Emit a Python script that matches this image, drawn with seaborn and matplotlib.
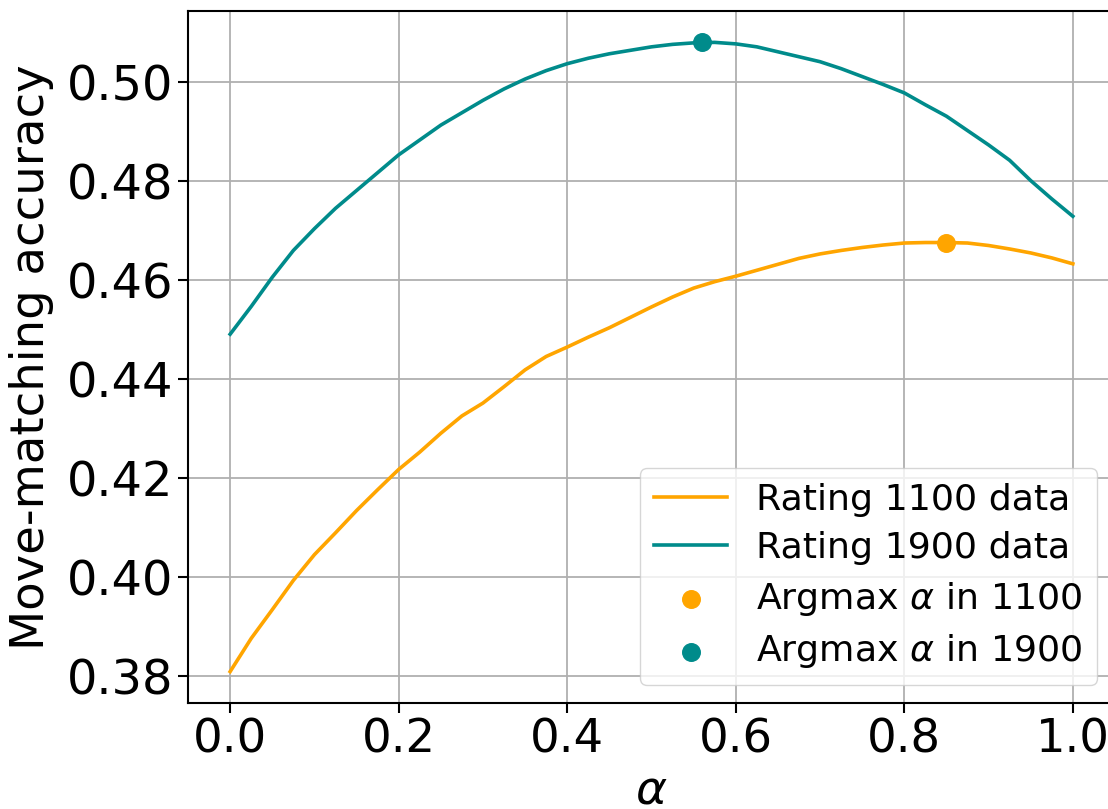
import numpy as np
import pandas as pd
import matplotlib
matplotlib.use("Agg")
import matplotlib.pyplot as plt
import seaborn as sns

alpha = [0.000, 0.025, 0.050, 0.075, 0.100, 0.125, 0.150, 0.175, 0.200, 0.225,
         0.250, 0.275, 0.300, 0.325, 0.350, 0.375, 0.400, 0.425, 0.450, 0.475,
         0.500, 0.525, 0.550, 0.575, 0.600, 0.625, 0.650, 0.675, 0.700, 0.725,
         0.750, 0.775, 0.800, 0.825, 0.850, 0.875, 0.900, 0.925, 0.950, 0.975, 1.000]

acc_1100 = [0.3809, 0.3876, 0.3934, 0.3993, 0.4045, 0.4089, 0.4134, 0.4176, 0.4217, 0.4252,
            0.4290, 0.4325, 0.4351, 0.4384, 0.4418, 0.4445, 0.4464, 0.4484, 0.4503, 0.4524,
            0.4545, 0.4565, 0.4583, 0.4596, 0.4607, 0.4619, 0.4631, 0.4643, 0.4652, 0.4659,
            0.4665, 0.4670, 0.4674, 0.4675, 0.4675, 0.4674, 0.4669, 0.4662, 0.4654, 0.4644, 0.4632]

acc_1900 = [0.4490, 0.4546, 0.4605, 0.4659, 0.4703, 0.4744, 0.4780, 0.4816, 0.4852, 0.4882,
            0.4912, 0.4937, 0.4962, 0.4985, 0.5005, 0.5022, 0.5036, 0.5047, 0.5056, 0.5063,
            0.5070, 0.5075, 0.5078, 0.5079, 0.5076, 0.5070, 0.5060, 0.5050, 0.5040, 0.5026,
            0.5010, 0.4994, 0.4977, 0.4953, 0.4930, 0.4901, 0.4872, 0.4841, 0.4800, 0.4763, 0.4728]

argmax_1100 = (0.85, 0.4675)
argmax_1900 = (0.56, 0.5079)

labels = ["Rating 1100 data", "Rating 1900 data", r"Argmax $\alpha$ in 1100", r"Argmax $\alpha$ in 1900"]
c1100 = "#FFA500"
c1900 = "#008B8B"

df = pd.DataFrame({"alpha": alpha, "a1100": acc_1100, "a1900": acc_1900})

plt.rcParams["font.family"] = ["DejaVu Sans"]
fig = plt.figure(figsize=(11.08, 8.09), dpi=100)
ax = fig.add_axes([0.1697, 0.131, 0.8366, 0.8555])

sns.lineplot(data=df, x="alpha", y="a1100", ax=ax, color=c1100, linewidth=2.6, label=labels[0])
sns.lineplot(data=df, x="alpha", y="a1900", ax=ax, color=c1900, linewidth=2.6, label=labels[1])
ax.scatter([argmax_1100[0]], [argmax_1100[1]], color=c1100, s=160, zorder=5, label=labels[2])
ax.scatter([argmax_1900[0]], [argmax_1900[1]], color=c1900, s=160, zorder=5, label=labels[3])

ax.set_xticks([0.0, 0.2, 0.4, 0.6, 0.8, 1.0])
ax.set_yticks([0.38, 0.40, 0.42, 0.44, 0.46, 0.48, 0.50])
ax.set_yticklabels(["0.38", "0.40", "0.42", "0.44", "0.46", "0.48", "0.50"])
ax.tick_params(axis="y", labelsize=34.5, length=7, width=1.5)
ax.tick_params(axis="x", labelsize=33.5, length=7, width=1.5)
ax.set_xlabel(r"$\alpha$", fontsize=34)
ax.set_ylabel("Move-matching accuracy", fontsize=33.5, labelpad=9)
ax.grid(True, color="#b0b0b0", linewidth=1.3)
ax.set_axisbelow(True)
for s in ax.spines.values():
    s.set_linewidth(1.5)

ax.legend(loc="lower right", fontsize=26.2, framealpha=0.8, labelspacing=0.4)

fig.savefig("out.png", dpi=100)
